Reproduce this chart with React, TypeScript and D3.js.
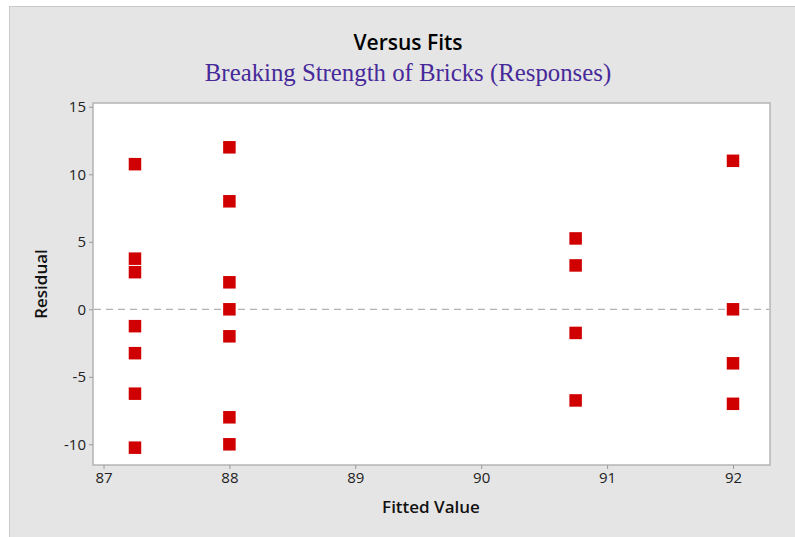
import { useEffect, useRef } from "react";
import * as d3 from "d3";

// fitted values and residuals
const fitted87 = [10.75, 3.75, 2.75, -1.25, -3.25, -6.25, -10.25];
const fitted88 = [12, 8, 2, 0, -2, -8, -10];
const fitted9075 = [5.25, 3.25, -1.75, -6.75];
const fitted92 = [11, 0, -4, -7];

const groups: [number, number[]][] = [
  [87.25, fitted87],
  [88, fitted88],
  [90.75, fitted9075],
  [92, fitted92],
];

const xTicks = [87, 88, 89, 90, 91, 92];
const yTicks = [-10, -5, 0, 5, 10, 15];

export default function App() {
  const svgRef = useRef<SVGSVGElement>(null);
  const width = 795;
  const height = 537;

  useEffect(() => {
    const svg = d3.select(svgRef.current);
    svg.selectAll("*").remove();

    const left = 93, right = 770, top = 103, bottom = 465;

    const x = d3.scaleLinear().domain([87, 92]).range([103.5, 733]);
    const y = d3.scaleLinear().domain([-10, 15]).range([444.3, 106.8]);

    // grey panel
    svg.append("rect")
      .attr("x", 9.5).attr("y", 6.5)
      .attr("width", 800).attr("height", 540)
      .attr("fill", "#e5e5e5")
      .attr("stroke", "#c9c9c9");

    // plot box
    svg.append("rect")
      .attr("x", left).attr("y", top)
      .attr("width", right - left).attr("height", bottom - top)
      .attr("fill", "#fff")
      .attr("stroke", "#b4b4b4")
      .attr("stroke-width", 1.5);

    // titles
    svg.append("text")
      .attr("x", 408).attr("y", 50)
      .attr("text-anchor", "middle")
      .attr("font-family", "'Open Sans', sans-serif")
      .attr("font-weight", 600)
      .attr("font-size", 21)
      .attr("fill", "#000")
      .text("Versus Fits");

    svg.append("text")
      .attr("x", 408).attr("y", 81)
      .attr("text-anchor", "middle")
      .attr("font-family", "'Liberation Serif', serif")
      .attr("font-size", 24.8)
      .attr("fill", "#47299a")
      .text("Breaking Strength of Bricks (Responses)");

    // axes
    const fmt = (d: d3.NumberValue) => String(d);
    const xAxis = d3.axisBottom(x).tickValues(xTicks).tickSize(4).tickFormat(fmt);
    const gx = svg.append("g").attr("transform", `translate(0,${bottom})`).call(xAxis);
    const yAxis = d3.axisLeft(y).tickValues(yTicks).tickSize(4).tickFormat(fmt);
    const gy = svg.append("g").attr("transform", `translate(${left},0)`).call(yAxis);

    for (const g of [gx, gy]) {
      g.select(".domain").remove();
      g.selectAll(".tick line").attr("stroke", "#9a9a9a");
      g.selectAll(".tick text")
        .attr("font-family", "'Open Sans', sans-serif")
        .attr("font-size", 15)
        .attr("fill", "#222");
    }
    gx.selectAll(".tick text").attr("dy", "0.71em").attr("y", 7);
    gy.selectAll(".tick text").attr("x", -7);

    // axis labels
    svg.append("text")
      .attr("x", 431).attr("y", 513)
      .attr("text-anchor", "middle")
      .attr("font-family", "'Open Sans', sans-serif")
      .attr("font-weight", 600)
      .attr("font-size", 17)
      .attr("fill", "#111")
      .text("Fitted Value");

    svg.append("text")
      .attr("transform", `translate(47,284) rotate(-90)`)
      .attr("text-anchor", "middle")
      .attr("font-family", "'Open Sans', sans-serif")
      .attr("font-weight", 600)
      .attr("font-size", 17)
      .attr("fill", "#111")
      .text("Residual");

    // zero reference line
    svg.append("line")
      .attr("x1", left + 1).attr("x2", right - 1)
      .attr("y1", y(0)).attr("y2", y(0))
      .attr("stroke", "#a0a0a0")
      .attr("stroke-width", 1)
      .attr("stroke-dasharray", "7,5");

    // points
    const pts = groups.flatMap(([f, rs]) => rs.map((r) => ({ f, r })));
    const s = 12.5;
    svg.append("g")
      .selectAll("rect")
      .data(pts)
      .join("rect")
      .attr("x", (d) => x(d.f) - s / 2)
      .attr("y", (d) => y(d.r) - s / 2)
      .attr("width", s)
      .attr("height", s)
      .attr("fill", "#d10000");
  }, []);

  return (
    <svg
      ref={svgRef}
      width={width}
      height={height}
      style={{ position: "absolute", left: 0, top: 0, background: "#fff" }}
    />
  );
}
